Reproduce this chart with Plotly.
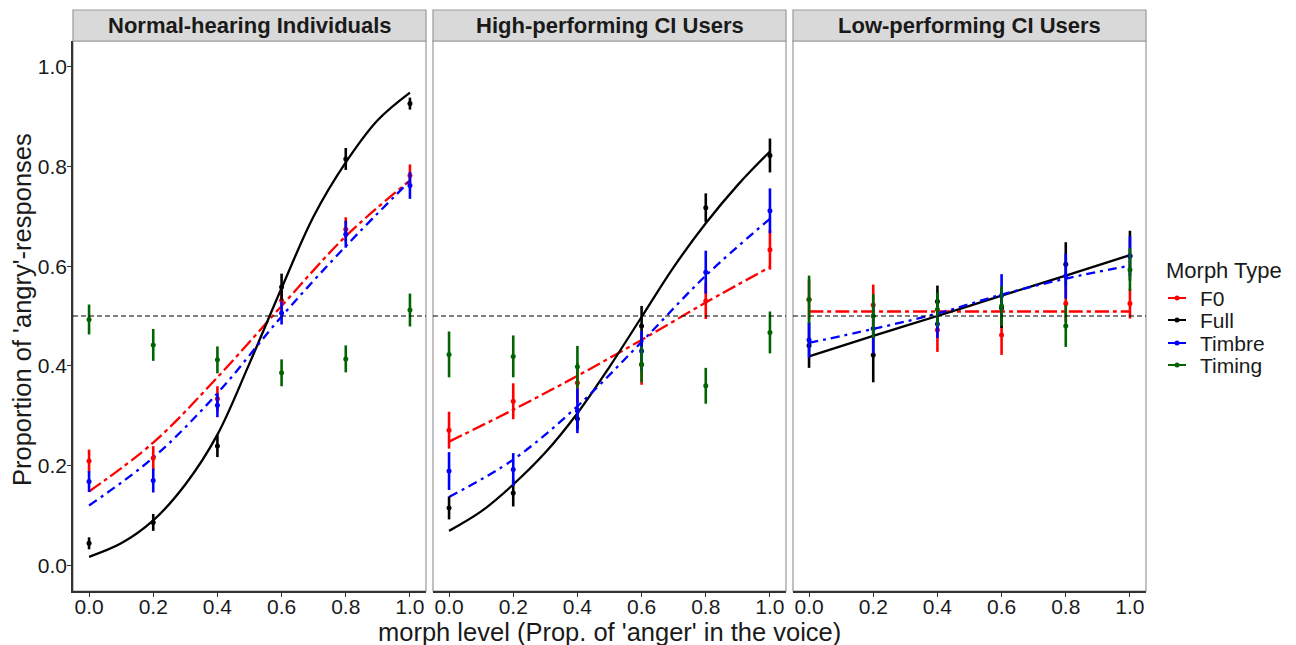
import plotly.graph_objects as go

# ---------------- data ----------------
morph = [0.0, 0.2, 0.4, 0.6, 0.8, 1.0]
fine = [0.0, 0.1, 0.2, 0.3, 0.4, 0.5, 0.6, 0.7, 0.8, 0.9, 1.0]
tick_vals = [0.0, 0.2, 0.4, 0.6, 0.8, 1.0]
tick_text = ["0.0", "0.2", "0.4", "0.6", "0.8", "1.0"]
panels = ["Normal-hearing Individuals", "High-performing CI Users", "Low-performing CI Users"]
types = ["F0", "Full", "Timbre", "Timing"]

# Normal-hearing
nh_f0 = [0.209, 0.215, 0.334, 0.531, 0.674, 0.782]
nh_f0_err = [0.023, 0.024, 0.025, 0.020, 0.024, 0.022]
nh_full = [0.044, 0.086, 0.239, 0.558, 0.815, 0.926]
nh_full_err = [0.012, 0.017, 0.022, 0.027, 0.022, 0.012]
nh_timbre = [0.168, 0.170, 0.321, 0.506, 0.664, 0.762]
nh_timbre_err = [0.021, 0.024, 0.024, 0.023, 0.027, 0.027]
nh_timing = [0.493, 0.442, 0.412, 0.386, 0.414, 0.512]
nh_timing_err = [0.030, 0.032, 0.027, 0.027, 0.027, 0.033]
nh_f0_fit = [0.148, 0.246, 0.377, 0.520, 0.660, 0.772]
nh_full_fit = [0.017, 0.044, 0.090, 0.162, 0.262, 0.405, 0.556, 0.700, 0.808, 0.893, 0.948]
nh_timbre_fit = [0.120, 0.216, 0.345, 0.499, 0.640, 0.771]

# High-performing CI
hp_f0 = [0.271, 0.329, 0.366, 0.402, 0.530, 0.633]
hp_f0_err = [0.037, 0.036, 0.040, 0.040, 0.036, 0.040]
hp_full = [0.115, 0.145, 0.294, 0.480, 0.717, 0.822]
hp_full_err = [0.023, 0.027, 0.022, 0.040, 0.029, 0.034]
hp_timbre = [0.189, 0.192, 0.310, 0.430, 0.588, 0.711]
hp_timbre_err = [0.038, 0.033, 0.045, 0.040, 0.043, 0.045]
hp_timing = [0.423, 0.419, 0.398, 0.403, 0.360, 0.467]
hp_timing_err = [0.046, 0.042, 0.042, 0.036, 0.036, 0.042]
hp_f0_fit = [0.248, 0.312, 0.380, 0.452, 0.527, 0.598]
hp_full_fit = [0.069, 0.108, 0.162, 0.226, 0.305, 0.398, 0.498, 0.598, 0.686, 0.763, 0.830]
hp_timbre_fit = [0.137, 0.212, 0.319, 0.448, 0.581, 0.695]

# Low-performing CI
lp_f0 = [0.533, 0.522, 0.472, 0.462, 0.525, 0.525]
lp_f0_err = [0.040, 0.041, 0.044, 0.040, 0.036, 0.030]
lp_full = [0.441, 0.422, 0.529, 0.516, 0.604, 0.621]
lp_full_err = [0.045, 0.055, 0.032, 0.040, 0.044, 0.050]
lp_timbre = [0.452, 0.475, 0.484, 0.541, 0.580, 0.620]
lp_timbre_err = [0.036, 0.050, 0.028, 0.043, 0.045, 0.040]
lp_timing = [0.533, 0.500, 0.513, 0.520, 0.480, 0.593]
lp_timing_err = [0.048, 0.044, 0.034, 0.040, 0.042, 0.043]
lp_f0_fit = [0.509, 0.509, 0.509, 0.509, 0.509, 0.509]
lp_full_fit = [0.419, 0.460, 0.500, 0.541, 0.581, 0.622]
lp_timbre_fit = [0.446, 0.474, 0.505, 0.543, 0.575, 0.601]

chance = 0.5

# ---------------- styling ----------------
colors = {"F0": "#FF0000", "Full": "#000000", "Timbre": "#0000FF", "Timing": "#006400"}
dashes = {"F0": "14px,4px,4px,4px", "Full": "solid", "Timbre": "9px,5px,3px,5px"}
FONT = "Liberation Sans, Arial, sans-serif"
TXT = "#1a1a1a"

panel_data = [
    {"F0": (nh_f0, nh_f0_err), "Full": (nh_full, nh_full_err),
     "Timbre": (nh_timbre, nh_timbre_err), "Timing": (nh_timing, nh_timing_err)},
    {"F0": (hp_f0, hp_f0_err), "Full": (hp_full, hp_full_err),
     "Timbre": (hp_timbre, hp_timbre_err), "Timing": (hp_timing, hp_timing_err)},
    {"F0": (lp_f0, lp_f0_err), "Full": (lp_full, lp_full_err),
     "Timbre": (lp_timbre, lp_timbre_err), "Timing": (lp_timing, lp_timing_err)},
]
panel_fits = [
    {"F0": (morph, nh_f0_fit), "Full": (fine, nh_full_fit), "Timbre": (morph, nh_timbre_fit)},
    {"F0": (morph, hp_f0_fit), "Full": (fine, hp_full_fit), "Timbre": (morph, hp_timbre_fit)},
    {"F0": (morph, lp_f0_fit), "Full": (morph, lp_full_fit), "Timbre": (morph, lp_timbre_fit)},
]

# page body has an 8px offset, so the figure is drawn 8px smaller
OFF = 8
W, H = 1296 - OFF, 645 - OFF
L_REF, R_REF, T_REF, B_REF = 73, 1146, 41, 591
ML, MT = L_REF - OFF, T_REF - OFF
MR, MB = W - (R_REF - OFF), H - (B_REF - OFF)
PW = R_REF - L_REF
PH = B_REF - T_REF
px_edges = [(73, 426), (433, 786), (793, 1146)]
domains = [[(a - L_REF) / PW, (b - L_REF) / PW] for a, b in px_edges]


def px2x(X):
    return (X - L_REF) / PW


def px2y(Y):
    return (B_REF - Y) / PH


fig = go.Figure()

for i in range(3):
    xa = "x" if i == 0 else f"x{i+1}"
    ya = "y" if i == 0 else f"y{i+1}"
    for t in ["F0", "Full", "Timbre"]:
        fx, fy = panel_fits[i][t]
        fig.add_trace(go.Scatter(
            x=fx, y=fy, mode="lines", xaxis=xa, yaxis=ya,
            line=dict(color=colors[t], width=2.3, dash=dashes[t], shape="spline", smoothing=1.0),
            showlegend=False, hoverinfo="skip"))
    for t in types:
        m, e = panel_data[i][t]
        fig.add_trace(go.Scatter(
            x=morph, y=m, mode="markers", xaxis=xa, yaxis=ya,
            marker=dict(color=colors[t], size=5),
            error_y=dict(type="data", array=e, visible=True, color=colors[t],
                         thickness=2.6, width=0),
            showlegend=False))

shapes = []
annotations = []
for i in range(3):
    xr = "x" if i == 0 else f"x{i+1}"
    yr = "y" if i == 0 else f"y{i+1}"
    shapes.append(dict(type="rect", xref=f"{xr} domain", yref=f"{yr} domain",
                       x0=0, x1=1, y0=0, y1=1, line=dict(color="#999999", width=1.2),
                       fillcolor="rgba(0,0,0,0)", layer="below"))
    shapes.append(dict(type="rect", xref=f"{xr} domain", yref="paper",
                       x0=0, x1=1, y0=1, y1=1 + 31 / PH,
                       line=dict(color="#999999", width=1.2), fillcolor="#D9D9D9"))
    annotations.append(dict(text=f"<b>{panels[i]}</b>", xref=f"{xr} domain", yref="paper",
                            x=0.5, y=1 + 15.5 / PH, showarrow=False,
                            font=dict(family=FONT, size=22, color=TXT),
                            xanchor="center", yanchor="middle"))
    shapes.append(dict(type="line", xref=f"{xr} domain", yref=yr, x0=0, x1=1,
                       y0=chance, y1=chance, line=dict(color="#000000", width=1.2, dash="5px,3px"),
                       layer="above"))

annotations.append(dict(text="Proportion of 'angry'-responses", xref="paper", yref="paper",
                        x=px2x(22), y=px2y(310), textangle=-90, showarrow=False,
                        font=dict(family=FONT, size=25.5, color=TXT),
                        xanchor="center", yanchor="middle"))
annotations.append(dict(text="morph level (Prop. of 'anger' in the voice)", xref="paper", yref="paper",
                        x=px2x(609), y=px2y(632), showarrow=False,
                        font=dict(family=FONT, size=25.5, color=TXT),
                        xanchor="center", yanchor="middle"))

annotations.append(dict(text="Morph Type", xref="paper", yref="paper", x=px2x(1164), y=px2y(270),
                        showarrow=False, font=dict(family=FONT, size=22, color=TXT),
                        xanchor="left", yanchor="middle"))
leg_y = [298, 320, 343, 365]
for t, ly in zip(types, leg_y):
    shapes.append(dict(type="line", xref="paper", yref="paper", x0=px2x(1168), x1=px2x(1186),
                       y0=px2y(ly), y1=px2y(ly), line=dict(color=colors[t], width=2)))
    shapes.append(dict(type="circle", xref="paper", yref="paper", x0=px2x(1174.5), x1=px2x(1179.5),
                       y0=px2y(ly + 2.5), y1=px2y(ly - 2.5), line=dict(color=colors[t], width=0),
                       fillcolor=colors[t]))
    annotations.append(dict(text=t, xref="paper", yref="paper", x=px2x(1198), y=px2y(ly),
                            showarrow=False, font=dict(family=FONT, size=21, color=TXT),
                            xanchor="left", yanchor="middle"))

layout = dict(
    width=W, height=H,
    margin=dict(l=ML, r=MR, t=MT, b=MB, pad=0),
    plot_bgcolor="white", paper_bgcolor="white",
    font=dict(family=FONT, color=TXT),
    shapes=shapes, annotations=annotations,
    showlegend=False,
)
for i in range(3):
    xk = "xaxis" if i == 0 else f"xaxis{i+1}"
    yk = "yaxis" if i == 0 else f"yaxis{i+1}"
    ya = "y" if i == 0 else f"y{i+1}"
    xa = "x" if i == 0 else f"x{i+1}"
    layout[xk] = dict(domain=domains[i], anchor=ya, range=[-0.05, 1.05],
                      tickvals=tick_vals, ticktext=tick_text, ticks="outside", ticklen=4,
                      tickcolor="#333333", showgrid=False, zeroline=False,
                      showline=True, linecolor="#333333", linewidth=1.5,
                      ticklabelstandoff=-8,
                      tickfont=dict(size=21, family=FONT, color=TXT))
    layout[yk] = dict(domain=[0, 1], anchor=xa, range=[-0.0516, 1.0516],
                      tickvals=tick_vals, ticktext=tick_text, ticks="outside" if i == 0 else "",
                      ticklen=4, tickcolor="#333333", showgrid=False, zeroline=False,
                      showticklabels=(i == 0), showline=(i == 0), linecolor="#333333", linewidth=1.5,
                      ticklabelstandoff=-4,
                      tickfont=dict(size=21, family=FONT, color=TXT))
fig.update_layout(**layout)

fig.write_html("out.html")
